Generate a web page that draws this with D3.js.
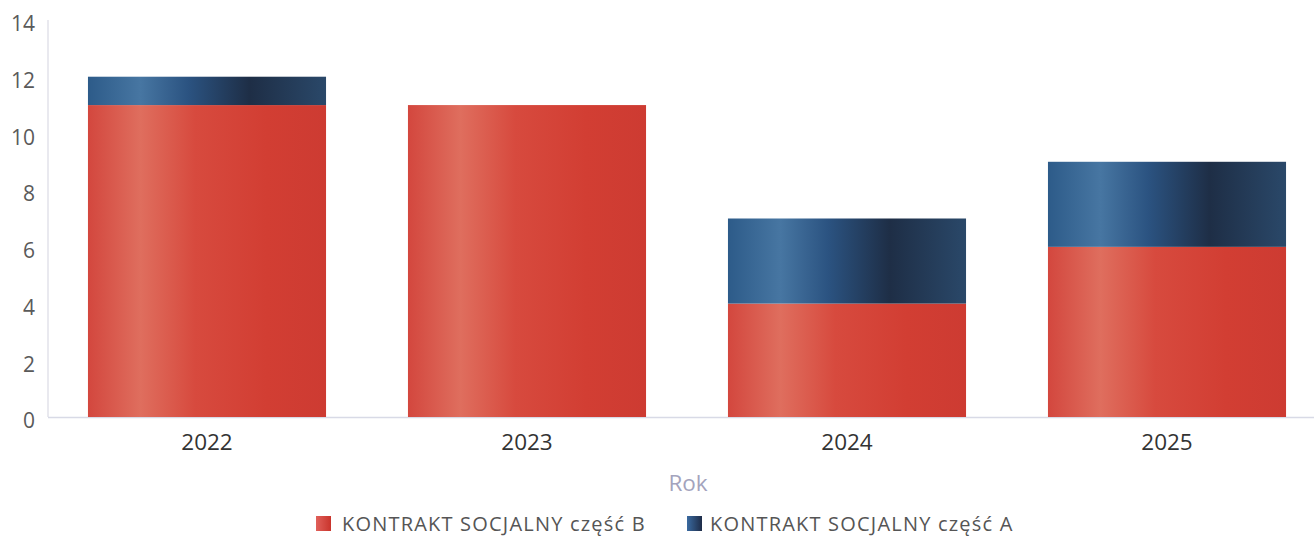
<!DOCTYPE html>
<html>
<head>
<meta charset="utf-8">
<script src="https://cdn.jsdelivr.net/npm/d3@7"></script>
<style>
  body { margin: 0; background: #fff; }
  text { font-family: "Open Sans", "Noto Sans", sans-serif; }
</style>
</head>
<body>
<div id="chart"></div>
<script>
var width = 1314,
    height = 539;

// data
var years = ["2022", "2023", "2024", "2025"];
var seriesNames = ["KONTRAKT SOCJALNY część B", "KONTRAKT SOCJALNY część A"];
var partB = [11, 11, 4, 6];
var partA = [1, 0, 3, 3];
var yTicks = [0, 2, 4, 6, 8, 10, 12, 14];

var svg = d3.select("#chart").append("svg")
    .attr("width", width)
    .attr("height", height);

var x = d3.scaleBand()
    .domain(years)
    .range([47, 1327])
    .paddingInner(0.256)
    .paddingOuter(0.128);

var y = d3.scaleLinear()
    .domain([0, 14])
    .range([417, 20]);

// gradients for the glossy bars
var defs = svg.append("defs");
function gradient(id, stops) {
    var g = defs.append("linearGradient")
        .attr("id", id)
        .attr("x1", "0%").attr("x2", "100%")
        .attr("y1", "0%").attr("y2", "0%");
    stops.forEach(function (s) {
        g.append("stop").attr("offset", s[0]).attr("stop-color", s[1]);
    });
}
gradient("gradB", [["0%", "#d3473e"], ["22%", "#df6e5e"], ["45%", "#d74a3e"], ["75%", "#d23e33"], ["100%", "#cd3b32"]]);
gradient("gradA", [["0%", "#2d5b89"], ["22%", "#4776a2"], ["42%", "#2b5381"], ["68%", "#1e2e46"], ["100%", "#2a4869"]]);
gradient("legB", [["0%", "#e0605a"], ["100%", "#c9342c"]]);
gradient("legA", [["0%", "#3a6aa0"], ["100%", "#1e2c48"]]);

// axes lines
svg.append("line")
    .attr("x1", 48).attr("x2", 48)
    .attr("y1", 20).attr("y2", 417)
    .attr("stroke", "#e2e2ea")
    .attr("stroke-width", 1.5);
svg.append("line")
    .attr("x1", 48).attr("x2", width)
    .attr("y1", 417.5).attr("y2", 417.5)
    .attr("stroke", "#d8dae6")
    .attr("stroke-width", 1.5);

// y tick labels
svg.selectAll(".ytick")
    .data(yTicks)
    .enter().append("text")
    .attr("class", "ytick")
    .attr("x", 35)
    .attr("y", function (d) { return y(d) + 4; })
    .attr("dy", "0.35em")
    .attr("text-anchor", "end")
    .attr("font-size", 21)
    .attr("fill", "#5a5a5a")
    .text(function (d) { return d; });

// stacked bars
var stackData = years.map(function (yr, i) {
    return { year: yr, b: partB[i], a: partA[i] };
});
var stack = d3.stack().keys(["b", "a"]);
var layers = stack(stackData);
var fills = ["url(#gradB)", "url(#gradA)"];

svg.selectAll(".layer")
    .data(layers)
    .enter().append("g")
    .attr("class", "layer")
    .attr("fill", function (d, i) { return fills[i]; })
    .selectAll("rect")
    .data(function (d) { return d.filter(function (p) { return p[1] > p[0]; }); })
    .enter().append("rect")
    .attr("x", function (d) { return x(d.data.year); })
    .attr("y", function (d) { return y(d[1]); })
    .attr("width", x.bandwidth())
    .attr("height", function (d) { return y(d[0]) - y(d[1]); });

// x tick labels
svg.selectAll(".xtick")
    .data(years)
    .enter().append("text")
    .attr("class", "xtick")
    .attr("x", function (d) { return x(d) + x.bandwidth() / 2; })
    .attr("y", 450)
    .attr("text-anchor", "middle")
    .attr("font-size", 22.5)
    .attr("fill", "#333")
    .text(function (d) { return d; });

// axis title
svg.append("text")
    .attr("x", 688)
    .attr("y", 491)
    .attr("text-anchor", "middle")
    .attr("font-size", 22.5)
    .attr("fill", "#a3a3bd")
    .text("Rok");

// legend
var legendX = [316, 687];
var legFills = ["url(#legB)", "url(#legA)"];
var leg = svg.selectAll(".legend")
    .data(seriesNames)
    .enter().append("g")
    .attr("class", "legend")
    .attr("transform", function (d, i) { return "translate(" + legendX[i] + ",516)"; });
leg.append("rect")
    .attr("width", 15)
    .attr("height", 15)
    .attr("fill", function (d, i) { return legFills[i]; });
leg.append("text")
    .attr("x", function (d, i) { return i == 0 ? 26 : 23; })
    .attr("y", 15)
    .attr("font-size", 20)
    .attr("letter-spacing", 1.2)
    .attr("fill", "#555")
    .text(function (d) { return d; });
</script>
</body>
</html>
